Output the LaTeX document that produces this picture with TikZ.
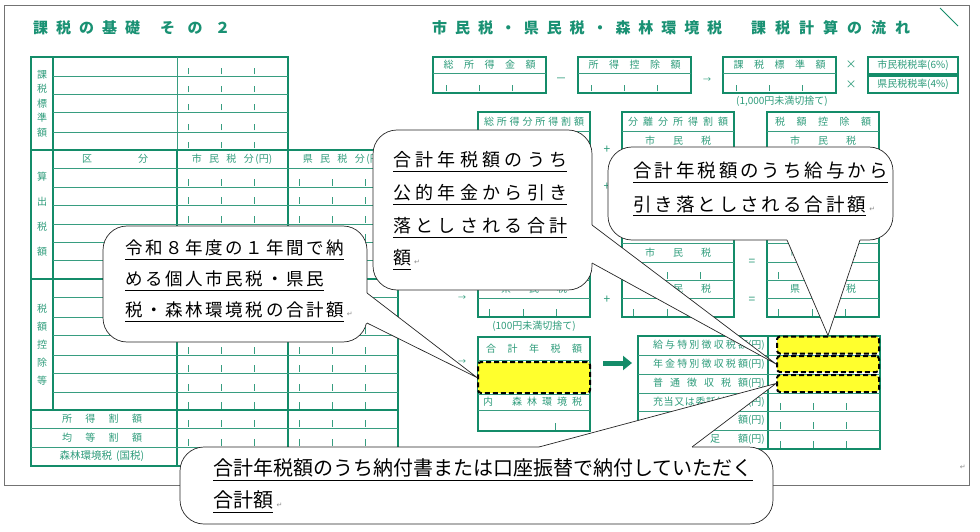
\documentclass[tikz,border=0pt]{standalone}
\usepackage{fontspec}
\setmainfont{Noto Sans CJK JP}
\newfontfamily\jpsym{DejaVu Sans}
\newfontfamily\jpA{Noto Sans CJK JP}[LetterSpace=15]
\newfontfamily\jpB{Noto Sans CJK JP}[LetterSpace=24]
\newfontfamily\jpC{Noto Sans CJK JP}[LetterSpace=16]
\usepackage{tikz}
\usetikzlibrary{arrows.meta,positioning}
\definecolor{formgreen}{RGB}{20,140,105}
\definecolor{formtext}{RGB}{45,155,122}
\definecolor{formtitle}{RGB}{25,145,115}
\definecolor{marker}{RGB}{255,255,45}
% spread the characters of #2 over the width #1
\newcommand{\sprd}[2]{\makebox[#1][s]{\expandafter\sprdA#2\relax}}
\def\sprdA#1{#1\sprdB}
\def\sprdB#1{\ifx#1\relax\else\hfill#1\expandafter\sprdB\fi}
\newcommand{\undr}[1]{\setbox0\hbox{#1}\rlap{\rule[-5pt]{\wd0}{1.1pt}}\box0}
\newcommand{\retmark}{\,{\jpsym\fontsize{7}{7}\selectfont\color{black!45}↵}}

\begin{document}
\begin{tikzpicture}[x=1pt,y=-1pt,
  frm/.style={draw=formgreen,line width=1.4pt},
  rowline/.style={draw=formgreen!85,line width=0.8pt},
  tick/.style={draw=formgreen!85,line width=0.8pt},
  lbl/.style={text=formtext,inner sep=0pt,font=\fontsize{10}{10}\selectfont},
  ttl/.style={text=formtitle,inner sep=0pt,anchor=west,font=\bfseries\fontsize{15}{15}\selectfont},
  hl/.style={draw=black,line width=2pt,dash pattern=on 5pt off 3pt,fill=marker,
             rounded corners=3pt,inner sep=0pt},
  balloon/.style={draw=black!85,fill=white,line width=0.7pt,rounded corners=24pt},
  wedge/.style={draw=black!85,line width=0.7pt},
  say/.style={anchor=base west,inner sep=0pt}]
  \useasboundingbox (0,0) rectangle (980,532);
  \draw[black!55,line width=0.9pt] (4,5) rectangle (969,485);
  \draw[formgreen,line width=0.9pt] (940,8) -- (958,26);
  \node[inner sep=0pt] (endmark) at (962,467) {\retmark};

  % titles
  \node[ttl] (title1) at (33,28) {\sprd{107pt}{課税の基礎}};
  \node[ttl] (title2) at (160,28) {\sprd{70pt}{その２}};
  \node[ttl] (title3) at (432,28) {\sprd{290pt}{市民税・県民税・森林環境税}};
  \node[ttl] (title4) at (751,28) {\sprd{159pt}{課税計算の流れ}};

  % left table, upper part
  \draw[frm] (31,57) rectangle (288,150);
  \draw[frm] (53,57) -- (53,150);
  \draw[rowline] (177,57) -- (177,150);
  \foreach \y in {76,94,112,132} \draw[rowline] (53,\y) -- (288,\y);
  \foreach \y in {76,94,112,132,150}
    \foreach \x in {188,221,254} \draw[tick] (\x,\y-1.5) -- (\x,\y-8);
  \foreach \c [count=\i] in {課,税,標,準,額} \node[lbl] (kz\i) at (42,60+14.5*\i) {\c};

  % left table, lower part
  \draw[frm] (31,150) rectangle (398,466);
  \draw[frm] (53,150) -- (53,410);
  \draw[frm] (31,279) -- (398,279);
  \draw[frm] (31,410) -- (398,410);
  \draw[frm] (177,150) -- (177,466);
  \draw[frm] (288,150) -- (288,466);
  \foreach \y in {168,187,205,224,242,260,297,317,335,355,373,392}
    \draw[rowline] (53,\y) -- (398,\y);
  \foreach \y in {428,447} \draw[rowline] (31,\y) -- (398,\y);
  \foreach \y in {187,205,224,242,260,279,297,317,335,355,373,392,410,428,447,466}
    \foreach \x in {188,221,254,299,332,365} \draw[tick] (\x,\y-1.5) -- (\x,\y-8);
  \foreach \c [count=\i] in {算,出,税,額} \node[lbl] (sz\i) at (42,151+25.3*\i) {\c};
  \foreach \c [count=\i] in {税,額,控,除,等} \node[lbl] (kj\i) at (42,291+18*\i) {\c};
  \node[lbl] (kubun1) at (87,159) {区};
  \node[lbl] (kubun2) at (143,159) {分};
  \node[lbl] (shibun) at (232,159) {\sprd{62pt}{市民税分}\,(円)};
  \node[lbl] (kenbun) at (343,159) {\sprd{62pt}{県民税分}\,(円)};
  \node[lbl] (shotoku) at (102,419) {\sprd{80pt}{所得割額}};
  \node[lbl] (kinto) at (102,437.5) {\sprd{80pt}{均等割額}};
  \node[lbl,font=\fontsize{10.5}{11}\selectfont] (shinrin) at (102,456.5) {森林環境税\hspace{4pt}(国税)};

  % first row of the flow
  \foreach \x/\t [count=\i] in {433/総所得金額,578/所得控除額,723/課税標準額} {
    \draw[frm] (\x,57) rectangle (\x+113,93);
    \draw[rowline] (\x,73) -- (\x+113,73);
    \node[lbl] (box\i) at (\x+56.5,65) {\sprd{92pt}{\t}};
    \foreach \d in {13,46,79} \draw[tick] (\x+\d,91.5) -- (\x+\d,85);
  }
  \node[lbl,font=\fontsize{11}{11}\selectfont] (minus) at (561,80) {－};
  \node[lbl,font=\fontsize{8}{8}\selectfont] (to1) at (707,80) {→};
  \node[lbl] (round1) at (782,101) {(1,000円未満切捨て)};
  \node[lbl,font=\fontsize{11}{11}\selectfont] (times1) at (851,65) {×};
  \node[lbl,font=\fontsize{11}{11}\selectfont] (times2) at (851,85) {×};
  \draw[frm] (868,57) rectangle (958,74);
  \draw[frm] (868,76) rectangle (958,93);
  \node[lbl] (rate1) at (913,65.5) {市民税税率(6\%)};
  \node[lbl] (rate2) at (913,84.5) {県民税税率(4\%)};

  % second row of the flow
  \foreach \x in {478,622,767} {
    \draw[frm] (\x,112) rectangle (\x+112,317);
    \foreach \y in {131,150,168,187,205,225,243,262,280,298}
      \draw[rowline] (\x,\y) -- (\x+112,\y);
    \foreach \y in {168,205,280,317}
      \foreach \d in {11,45,78} \draw[tick] (\x+\d,\y-1.5) -- (\x+\d,\y-8);
  }
  \node[lbl] (headA) at (534,121.5) {\sprd{100pt}{総所得分所得割額}};
  \node[lbl] (headB) at (678,121.5) {\sprd{100pt}{分離分所得割額}};
  \node[lbl] (headC) at (823,121.5) {\sprd{96pt}{税額控除額}};
  \node[lbl] (shiB) at (678,140.5) {\sprd{66pt}{市民税}};
  \node[lbl] (shiC) at (823,140.5) {\sprd{66pt}{市民税}};
  \node[lbl] (shiB2) at (678,252.5) {\sprd{66pt}{市民税}};
  \node[lbl] (shiC2) at (823,252.5) {\sprd{66pt}{市民税}};
  \node[lbl] (kenA2) at (534,289) {\sprd{66pt}{県民税}};
  \node[lbl] (kenB2) at (678,289) {\sprd{66pt}{県民税}};
  \node[lbl] (kenC2) at (823,289) {\sprd{66pt}{県民税}};
  \node[lbl,font=\fontsize{12}{12}\selectfont] (plus1) at (607,150) {+};
  \node[lbl,font=\fontsize{12}{12}\selectfont] (plus2) at (607,187) {+};
  \node[lbl,font=\fontsize{12}{12}\selectfont] (plus3) at (607,300) {+};
  \node[lbl,font=\fontsize{12}{12}\selectfont] (eq1) at (752,262) {=};
  \node[lbl,font=\fontsize{12}{12}\selectfont] (eq2) at (752,300) {=};
  \node[lbl,font=\fontsize{8}{8}\selectfont] (to2) at (462,298) {→};
  \node[lbl] (round2) at (534,326) {(100円未満切捨て)};

  % total and the table of how it is paid
  \node[lbl,font=\fontsize{8}{8}\selectfont] (to3) at (462,362) {→};
  \draw[frm] (478,337) rectangle (590,431);
  \foreach \y in {360,394,410} \draw[rowline] (478,\y) -- (590,\y);
  \node[lbl] (gokeihead) at (534,349) {\sprd{96pt}{合計年税額}};
  \node[lbl] (uchi) at (488,402) {内};
  \node[lbl] (uchishin) at (547,402) {\sprd{70pt}{森林環境税}};
  \draw[tick] (555,429.5) -- (555,423);
  \coordinate (bigS) at (603,363);
  \coordinate (bigE) at (632,363);
  \draw[formgreen,line width=5pt,-{Triangle[length=9pt,width=14pt]}] (bigS) -- (bigE);

  \draw[frm] (638,336) rectangle (880,449);
  \draw[frm] (768,336) -- (768,449);
  \foreach \y in {355,374,393,411,430} \draw[rowline] (638,\y) -- (880,\y);
  \foreach \y in {411,430,449}
    \foreach \x in {780,813,846} \draw[tick] (\x,\y-1.5) -- (\x,\y-8);
  \node[lbl,anchor=east] (row1) at (765,345.5) {\sprd{95pt}{給与特別徴収税額}(円)};
  \node[lbl,anchor=east] (row2) at (765,364.5) {\sprd{95pt}{年金特別徴収税額}(円)};
  \node[lbl,anchor=east] (row3) at (765,383.5) {\sprd{95pt}{普通徴収税額}(円)};
  \node[lbl,anchor=east] (row4) at (765,402) {\sprd{95pt}{充当又は委託納付額}(円)};
  \node[lbl,anchor=east] (row5) at (765,420.5) {額(円)};
  \node[lbl,anchor=east] (row6) at (765,439.5) {\sprd{38pt}{足額}(円)};

  % yellow marks
  \node[hl,minimum width=112pt,minimum height=31pt] (gokei) at (534,377.5) {};
  \node[hl,minimum width=102pt,minimum height=17pt] (kyuyo) at (828,345) {};
  \node[hl,minimum width=102pt,minimum height=16pt] (nenkin) at (828,364) {};
  \node[hl,minimum width=102pt,minimum height=17pt] (futsu) at (828,383.5) {};

  % balloons
  \draw[balloon] (373,130) rectangle (592,290);
  \fill[white] (589,225) -- (592,225) -- (nenkin.west) -- (592,263) -- (589,263) -- cycle;
  \draw[wedge] (592,225) -- (nenkin.west) -- (592,263);
  \node[say,font=\jpB\fontsize{18}{18}\selectfont] (nen1) at (393,166.8) {\undr{合計年税額のうち}};
  \node[say,font=\jpB\fontsize{18}{18}\selectfont] (nen2) at (393,199.8) {\undr{公的年金から引き}};
  \node[say,font=\jpB\fontsize{18}{18}\selectfont] (nen3) at (393,232.8) {\undr{落としされる合計}};
  \node[say,font=\jpB\fontsize{18}{18}\selectfont] (nen4) at (393,264.8) {\undr{額}\retmark};

  \draw[balloon] (103,226) rectangle (367,342);
  \fill[white] (364,293) -- (367,293) -- (gokei.west) -- (367,323) -- (364,323) -- cycle;
  \draw[wedge] (367,293) -- (gokei.west) -- (367,323);
  \node[say,font=\jpA\fontsize{17.5}{18}\selectfont] (rei1) at (125,254.6) {\undr{令和８年度の１年間で納}};
  \node[say,font=\jpA\fontsize{17.5}{18}\selectfont] (rei2) at (125,285.6) {\undr{める個人市民税・県民}};
  \node[say,font=\jpA\fontsize{17.5}{18}\selectfont] (rei3) at (125,316.6) {\undr{税・森林環境税の合計額}\retmark};

  \draw[balloon] (608,147) rectangle (893,240);
  \fill[white] (787,237) -- (787,240) -- (kyuyo.north) -- (860,240) -- (860,237) -- cycle;
  \draw[wedge] (787,240) -- (kyuyo.north) -- (860,240);
  \node[say,font=\jpC\fontsize{18.5}{19}\selectfont] (kyu1) at (633,178) {\undr{合計年税額のうち給与から}};
  \node[say,font=\jpC\fontsize{18.5}{19}\selectfont] (kyu2) at (633,211) {\undr{引き落としされる合計額}\retmark};

  \draw[balloon] (180,447) rectangle (773,524);
  \fill[white] (539,450) -- (539,447) -- (futsu.west) -- (692,447) -- (692,450) -- cycle;
  \draw[wedge] (539,447) -- (futsu.west) -- (692,447);
  \node[say,font=\fontsize{20}{20}\selectfont] (fu1) at (213,475.6) {\undr{合計年税額のうち納付書または口座振替で納付していただく}};
  \node[say,font=\fontsize{20}{20}\selectfont] (fu2) at (213,507.6) {\undr{合計額}\retmark};
\end{tikzpicture}
\end{document}
